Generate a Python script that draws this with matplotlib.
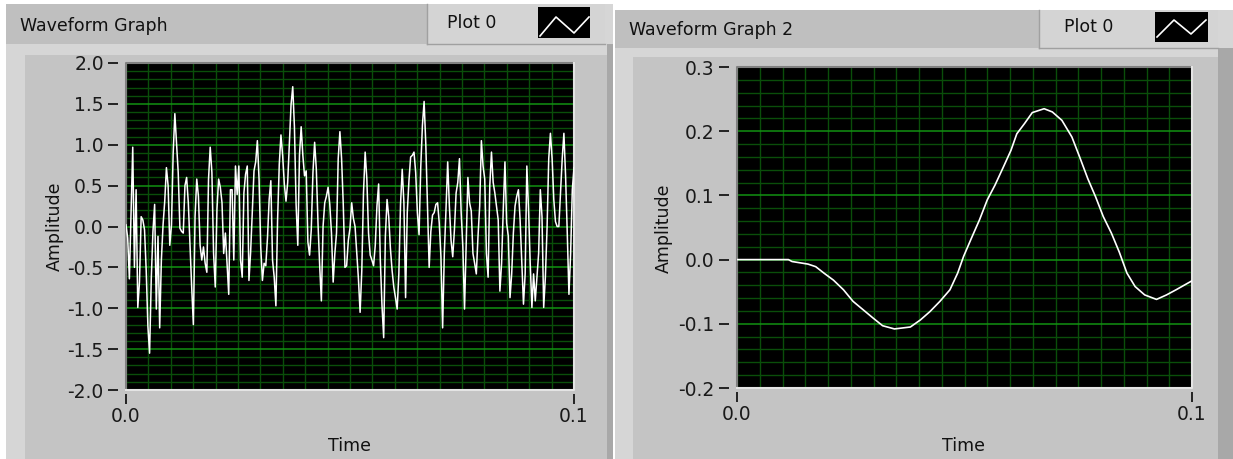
import matplotlib
matplotlib.use("Agg")
import matplotlib.pyplot as plt
import numpy as np
from matplotlib.patches import Rectangle
from matplotlib.lines import Line2D
from matplotlib.ticker import FixedLocator, MultipleLocator, FormatStrFormatter

# -------------------------- 1. data --------------------------
graph_titles = ["Waveform Graph", "Waveform Graph 2"]
legend_names = ["Plot 0", "Plot 0"]
x_label = "Time"
y_label = "Amplitude"

x_ticks = [0.0, 0.1]
noise_yticks = [-2.0, -1.5, -1.0, -0.5, 0.0, 0.5, 1.0, 1.5, 2.0]
pulse_yticks = [-0.2, -0.1, 0.0, 0.1, 0.2, 0.3]

# left graph: noisy waveform (constant dt)
noise_amp = [
    0.02, -0.14, -0.64, 0.17, 0.97, -0.50, 0.45, -0.99, -0.68, 0.12,
    0.08, -0.04, -0.54, -1.22, -1.55, -0.64, -0.06, 0.27, -1.01, -0.12,
    -1.24, -0.41, 0.02, 0.31, 0.72, 0.50, -0.23, 0.02, 0.89, 1.38,
    1.03, 0.66, -0.02, -0.06, -0.08, 0.50, 0.60, 0.29, -0.23, -0.74,
    -1.20, 0.12, 0.58, 0.37, -0.23, -0.41, -0.25, -0.45, -0.56, 0.58,
    0.97, 0.66, -0.33, -0.74, 0.21, 0.58, 0.48, 0.29, -0.33, -0.08,
    -0.45, -0.83, 0.45, 0.45, -0.41, 0.74, 0.39, 0.74, -0.41, -0.62,
    0.41, 0.64, 0.74, -0.66, -0.31, 0.17, 0.68, 0.79, 1.05, 0.58,
    -0.25, -0.66, -0.45, -0.48, -0.14, 0.33, 0.56, -0.41, -0.62, -0.97,
    0.08, 0.76, 1.12, 0.87, 0.52, 0.31, 0.54, 1.01, 1.49, 1.71,
    1.22, 0.27, -0.23, 0.87, 1.22, 0.87, 0.62, 0.68, -0.19, -0.35,
    -0.04, 0.66, 1.03, 0.70, 0.04, -0.48, -0.91, 0.00, 0.29, 0.37,
    0.48, 0.27, -0.08, -0.68, -0.33, -0.08, 0.83,
    1.16, 0.83, 0.27, -0.50, -0.48, -0.17, -0.02, 0.29, 0.10, 0.00,
    -0.33, -0.64, -1.05, -0.54, 0.41, 0.91, 0.58, -0.08, -0.35, -0.41,
    -0.48, -0.23, 0.25, 0.52, -0.41, -0.97, -1.36, -0.12, 0.33, 0.12,
    -0.27, -0.54, -0.74, -0.87, -1.01, -0.58, 0.27, 0.70, 0.29, -0.87,
    0.17, 0.56, 0.85, 0.87, 0.91, 0.66, 0.17, -0.10, 0.72, 1.24,
    1.53, 1.01, 0.25, -0.50, -0.06, 0.14, 0.17, 0.27, 0.29, 0.04,
    -0.37, -1.24, -0.33, 0.21, 0.79, 0.25, -0.17, -0.37, -0.04, 0.41,
    0.54, 0.83, 0.17, -0.25, -1.01, -0.21, 0.60, 0.29, 0.19, -0.33,
    -0.45, -0.58, -0.12, 0.25, 1.05, 0.74, 0.58, -0.33, -0.62, 0.50,
    0.91, 0.54, 0.41, 0.25, 0.08, -0.79, -0.45, 0.21, 0.79, 0.04,
    -0.12, -0.87, -0.58, -0.08, 0.25, 0.37, 0.45, 0.08, -0.43, -0.95,
    -0.58, 0.74, 0.21, -0.45, -0.99, -0.58, -0.91, -0.62, -0.33, 0.45,
    0.12, -0.99, -0.62, -0.02, 0.83, 1.14, 0.83, 0.33, 0.06, 0.00,
    0.00, 0.41, 0.83, 1.14, 0.62, -0.08, -0.83, -0.33, 0.45, 0.72,
]
T_START, T_END = 0.0, 0.1
noise_t = np.linspace(T_START, T_END, len(noise_amp))

# right graph: smooth pulse
pulse_t = [0.0, 0.0113, 0.0121, 0.0156, 0.0173, 0.0191, 0.0212, 0.0234, 0.0255,
           0.0277, 0.0299, 0.0320, 0.0346, 0.0381, 0.0403, 0.0424, 0.0446,
           0.0468, 0.0485, 0.0498, 0.0515, 0.0533, 0.0550, 0.0567, 0.0584,
           0.0602, 0.0615, 0.0632, 0.0649, 0.0675, 0.0693, 0.0714, 0.0736,
           0.0753, 0.0771, 0.0788, 0.0805, 0.0823, 0.0840, 0.0857, 0.0875,
           0.0896, 0.0922, 0.0944, 0.0965, 0.1000]
pulse_amp = [0.0, 0.0, -0.003, -0.007, -0.011, -0.021, -0.032, -0.047, -0.065,
             -0.078, -0.091, -0.103, -0.108, -0.105, -0.094, -0.081, -0.065,
             -0.047, -0.021, 0.005, 0.033, 0.062, 0.093, 0.116, 0.142,
             0.170, 0.196, 0.212, 0.229, 0.235, 0.230, 0.217, 0.191,
             0.160, 0.126, 0.098, 0.067, 0.041, 0.012, -0.021, -0.042,
             -0.055, -0.062, -0.055, -0.047, -0.033]

# -------------------------- 2. canvas & panel chrome --------------------------
W, H = 1233, 459
plt.rcParams['axes.unicode_minus'] = False
plt.rcParams['font.family'] = ['DejaVu Sans']
fig = plt.figure(figsize=(W / 100, H / 100), dpi=100)
fig.patch.set_facecolor("white")

FRAME = "#d6d6d6"
HEADER = "#bfbfbf"
LEGEND_BG = "#d4d4d4"
BODY = "#c4c4c4"
EDGE = "#a8a8a8"


def px_rect(x0, y0, x1, y1, color):
    # zorder below the axes so the graphs sit on top of the panel
    fig.patches.append(Rectangle((x0 / W, 1 - y1 / H), (x1 - x0) / W, (y1 - y0) / H,
                                 transform=fig.transFigure, facecolor=color,
                                 edgecolor="none", zorder=-2))


def px_line(xs, ys, color, lw):
    fig.lines.append(Line2D([x / W for x in xs], [1 - y / H for y in ys],
                            transform=fig.transFigure, color=color, lw=lw, zorder=-1))


def px_axes(x0, y0, x1, y1):
    return fig.add_axes([x0 / W, 1 - y1 / H, (x1 - x0) / W, (y1 - y0) / H])


# panel layouts (pixels): outer, header, legend box, body, swatch, plot area
panels = [
    dict(outer=(6, 4, 613, 459), header=(6, 4, 427, 44), legend=(427, 4, 605, 44),
         body=(25, 55, 607, 459), edge=(607, 44, 613, 459), swatch=(538, 7, 590, 38),
         zig=([540, 556, 574, 589], [36, 17, 33, 17]),
         title_xy=(20, 26), leg_xy=(447, 23), plot=(126, 63, 574, 390),
         ylab_xy=(55, 226), xlab_xy=(350, 446)),
    dict(outer=(615, 10, 1233, 459), header=(615, 10, 1039, 48), legend=(1039, 10, 1218, 48),
         body=(633, 57, 1218, 459), edge=(1218, 48, 1233, 459), swatch=(1155, 12, 1208, 42),
         zig=([1157, 1174, 1191, 1206], [37, 20, 34, 20]),
         title_xy=(629, 30), leg_xy=(1064, 27), plot=(737, 67, 1192, 388),
         ylab_xy=(664, 228), xlab_xy=(964, 446)),
]

for i, p in enumerate(panels):
    px_rect(*p["outer"], FRAME)
    px_rect(*p["header"], HEADER)
    px_rect(*p["legend"], LEGEND_BG)
    lx0, ly0, lx1, ly1 = p["legend"]
    px_line([lx0, lx0], [ly0, ly1], "#a0a0a0", 1.0)
    px_line([lx0, lx1], [ly1, ly1], "#a0a0a0", 1.0)
    px_rect(*p["body"], BODY)
    px_rect(*p["edge"], EDGE)
    px_rect(*p["swatch"], "black")
    px_line(p["zig"][0], p["zig"][1], "white", 1.2)
    fig.text(p["title_xy"][0] / W, 1 - p["title_xy"][1] / H, graph_titles[i],
             fontsize=12.5, ha="left", va="center", color="#111111")
    fig.text(p["leg_xy"][0] / W, 1 - p["leg_xy"][1] / H, legend_names[i],
             fontsize=12.5, ha="left", va="center", color="#111111")
    fig.text(p["ylab_xy"][0] / W, 1 - p["ylab_xy"][1] / H, y_label, rotation=90,
             fontsize=12.5, ha="center", va="center", color="#111111")
    fig.text(p["xlab_xy"][0] / W, 1 - p["xlab_xy"][1] / H, x_label,
             fontsize=12.5, ha="center", va="center", color="#111111")


# -------------------------- 3. graphs --------------------------
def setup_graph(ax, yticks, minor_step):
    ax.set_facecolor("black")
    ax.set_xlim(T_START, T_END)
    ax.set_ylim(yticks[0], yticks[-1])
    ax.xaxis.set_major_locator(FixedLocator(x_ticks))
    ax.xaxis.set_minor_locator(MultipleLocator((T_END - T_START) / 20))
    ax.yaxis.set_major_locator(FixedLocator(yticks))
    ax.yaxis.set_minor_locator(MultipleLocator(minor_step))
    ax.xaxis.set_major_formatter(FormatStrFormatter("%.1f"))
    ax.yaxis.set_major_formatter(FormatStrFormatter("%.1f"))
    ax.set_axisbelow(True)
    ax.grid(which="minor", color="#0a4e0a", lw=1.0)
    ax.grid(which="major", axis="x", color="#0a4e0a", lw=1.0)
    ax.grid(which="major", axis="y", color="#119211", lw=1.1)
    ax.tick_params(which="minor", length=0)
    ax.tick_params(which="major", direction="out", length=7, width=1.4, color="#222222",
                   labelsize=13.5, labelcolor="#1a1a1a")
    ax.tick_params(axis="y", pad=3)
    ax.tick_params(axis="x", pad=2)
    for s in ax.spines.values():
        s.set_color("none")
    ax.spines["left"].set_position(("outward", 6))
    ax.spines["bottom"].set_position(("outward", 3))
    # sunken frame round the plot area
    ax.plot([0, 0, 1], [0, 1, 1], transform=ax.transAxes, color="#808080", lw=1.5, clip_on=False)
    ax.plot([0, 1, 1], [0, 0, 1], transform=ax.transAxes, color="#e4e4e4", lw=1.5, clip_on=False)


ax1 = px_axes(*panels[0]["plot"])
setup_graph(ax1, noise_yticks, 0.1)
ax1.plot(noise_t, noise_amp, color="white", lw=1.1)

ax2 = px_axes(*panels[1]["plot"])
setup_graph(ax2, pulse_yticks, 0.02)
ax2.plot(pulse_t, pulse_amp, color="white", lw=1.2)

plt.savefig("out.png", dpi=100)
